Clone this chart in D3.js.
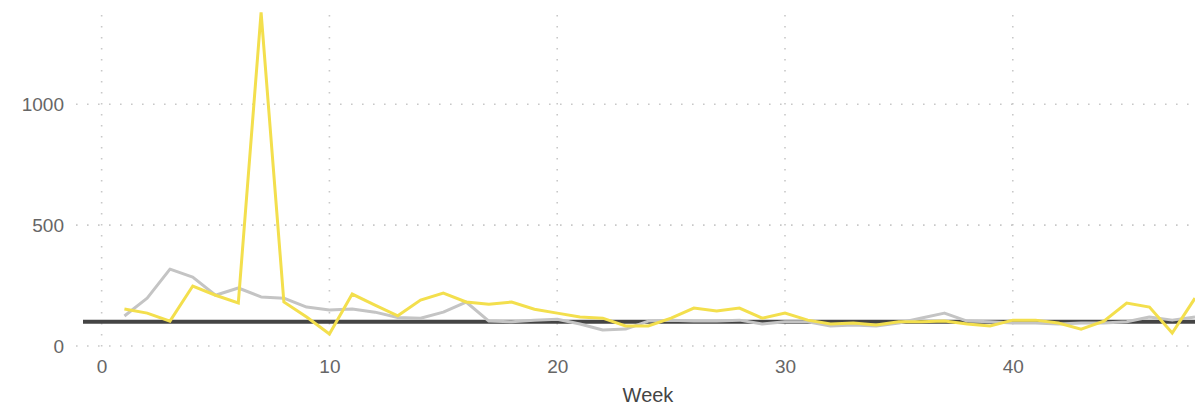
<!DOCTYPE html>
<html>
<head>
<meta charset="utf-8">
<script src="https://cdn.jsdelivr.net/npm/d3@7"></script>
<style>
  body { margin: 0; background: #fff; }
  svg text { font-family: "Liberation Sans", Arial, sans-serif; }
</style>
</head>
<body>
<svg width="1195" height="406"></svg>
<script>
// weeks 1..48
const WEEKS = d3.range(1, 49);

// yellow series
const YELLOW = [153, 136, 103, 248, 210, 178, 1380, 182, 120, 50,
    215, 169, 125, 190, 219, 182, 173, 182, 152, 136,
    120, 115, 83, 83, 115, 157, 145, 157, 115, 136,
    107, 91, 95, 87, 100, 100, 103, 91, 83, 107,
    107, 95, 70, 103, 178, 161, 54, 198];

// grey series
const GREY = [124, 198, 318, 285, 210, 240, 203, 198, 161, 149,
    153, 140, 118, 115, 140, 182, 103, 100, 107, 111,
    91, 66, 70, 103, 107, 103, 103, 107, 91, 100,
    100, 83, 87, 83, 95, 116, 136, 103, 100, 95,
    95, 91, 95, 95, 100, 120, 107, 120];

const TARGET = 100;
const X_TICKS = [0, 10, 20, 30, 40];
const Y_TICKS = [0, 500, 1000];

var svg = d3.select("svg"),
    width = +svg.attr("width"),
    height = +svg.attr("height");

var mLeft = 80, mRight = width, mTop = 10, mBottom = 346;

var x = d3.scaleLinear().domain([-0.95, 48]).range([mLeft, mRight]);
var y = d3.scaleLinear().domain([0, 1390]).range([mBottom, mTop]);

// dotted grid
var grid = svg.append("g").attr("stroke", "#c8c8c8").attr("stroke-width", 1.6)
    .attr("stroke-dasharray", "1.6,9.4");

grid.selectAll(".vg").data(X_TICKS).enter().append("line")
    .attr("x1", d => x(d)).attr("x2", d => x(d))
    .attr("y1", 15).attr("y2", mBottom + 2);

grid.selectAll(".hg").data(Y_TICKS).enter().append("line")
    .attr("x1", mLeft - 4).attr("x2", mRight)
    .attr("y1", d => y(d)).attr("y2", d => y(d));

// axes
var yAxis = svg.append("g")
    .attr("transform", "translate(" + (mLeft - 16) + ",0)")
    .call(d3.axisLeft(y).tickValues(Y_TICKS).tickFormat(d3.format("d")).tickSize(0).tickPadding(0));
var xAxis = svg.append("g")
    .attr("transform", "translate(0," + (mBottom + 10) + ")")
    .call(d3.axisBottom(x).tickValues(X_TICKS).tickSize(0).tickPadding(3));
[yAxis, xAxis].forEach(a => {
    a.select(".domain").remove();
    a.selectAll("text").attr("fill", "#666").style("font-size", "19px");
});

svg.append("text")
    .attr("x", 648).attr("y", 402)
    .attr("text-anchor", "middle")
    .attr("fill", "#444")
    .style("font-size", "20px")
    .text("Week");

// target line
svg.append("line")
    .attr("x1", mLeft + 3).attr("x2", mRight)
    .attr("y1", y(TARGET)).attr("y2", y(TARGET))
    .attr("stroke", "#444").attr("stroke-width", 4);

var line = d3.line().x((d, i) => x(WEEKS[i])).y(d => y(d));

svg.append("path").datum(GREY)
    .attr("fill", "none").attr("stroke", "#c4c4c4").attr("stroke-width", 3)
    .attr("stroke-linejoin", "round")
    .attr("d", line);

svg.append("path").datum(YELLOW)
    .attr("fill", "none").attr("stroke", "#f3df4d").attr("stroke-width", 3)
    .attr("stroke-linejoin", "miter")
    .attr("d", line);
</script>
</body>
</html>
